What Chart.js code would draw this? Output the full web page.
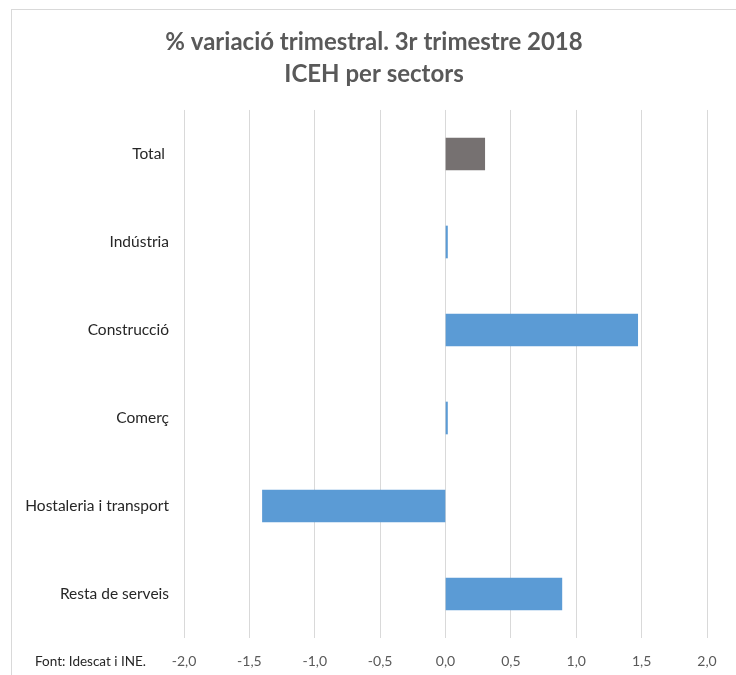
<!DOCTYPE html>
<html>
<head>
<meta charset="utf-8">
<script src="https://cdn.jsdelivr.net/npm/chart.js@4"></script>
<style>
  html, body { margin: 0; padding: 0; background: #fff; overflow: hidden; }
  #wrap { position: relative; width: 736px; height: 675px; }
  #frame { position: absolute; left: 11px; top: 9px; width: 900px; height: 900px; border: 1px solid #d9d9d9; box-sizing: border-box; }
  #chart { position: absolute; left: 0; top: 0; }
  #source { position: absolute; left: 35px; top: 653px; font: 13.5px Lato, sans-serif; color: #262626; white-space: nowrap; }
</style>
</head>
<body>
<div id="wrap">
  <div id="frame"></div>
  <canvas id="chart" width="736" height="675"></canvas>
  <div id="source">Font: Idescat i INE.</div>
</div>
<script>
// % variació trimestral, 3r trimestre 2018, per sectors
const sectors = ["Total ", "Indústria", "Construcció", "Comerç", "Hostaleria i transport", "Resta de serveis"];
const variation = [0.30, 0.015, 1.47, 0.015, -1.40, 0.89];
const barColors = ["#767171", "#5B9BD5", "#5B9BD5", "#5B9BD5", "#5B9BD5", "#5B9BD5"];
const titleLines = ["% variació trimestral. 3r trimestre 2018", "ICEH per sectors"];
const axisMin = -2, axisMax = 2, axisStep = 0.5;

const ctx = document.getElementById("chart").getContext("2d");
new Chart(ctx, {
  type: "bar",
  data: {
    labels: sectors,
    datasets: [{ data: variation, backgroundColor: barColors, barThickness: 32 }]
  },
  options: {
    indexAxis: "y",
    responsive: false,
    animation: false,
    layout: { padding: { left: 12, right: 0, top: 0, bottom: 0 } },
    plugins: {
      legend: { display: false },
      tooltip: { enabled: false },
      title: {
        display: true,
        text: titleLines,
        color: "#595959",
        font: { family: "Lato", size: 24, weight: "bold", lineHeight: 1.333 },
        padding: { top: 26, bottom: 20 }
      }
    },
    scales: {
      y: {
        grid: { display: false },
        border: { display: false },
        ticks: { color: "#262626", font: { family: "Lato", size: 15.5 }, padding: 7 },
        afterFit: s => { s.width = 172; }
      },
      // empty right-hand axis: leaves the margin after 2,0 so the title stays centred
      yRight: {
        type: "category",
        position: "right",
        labels: sectors,
        grid: { display: false },
        border: { display: false },
        ticks: { display: false },
        afterFit: s => { s.width = 29; }
      },
      x: {
        min: axisMin,
        max: axisMax,
        grid: { color: "#d9d9d9", lineWidth: 1, drawTicks: false },
        border: { display: false },
        ticks: {
          stepSize: axisStep,
          color: "#595959",
          font: { family: "Lato", size: 14 },
          padding: 15,
          callback: v => v.toFixed(1).replace(".", ",")
        },
        afterFit: s => { s.height = 37; }
      }
    }
  }
});
</script>
</body>
</html>
